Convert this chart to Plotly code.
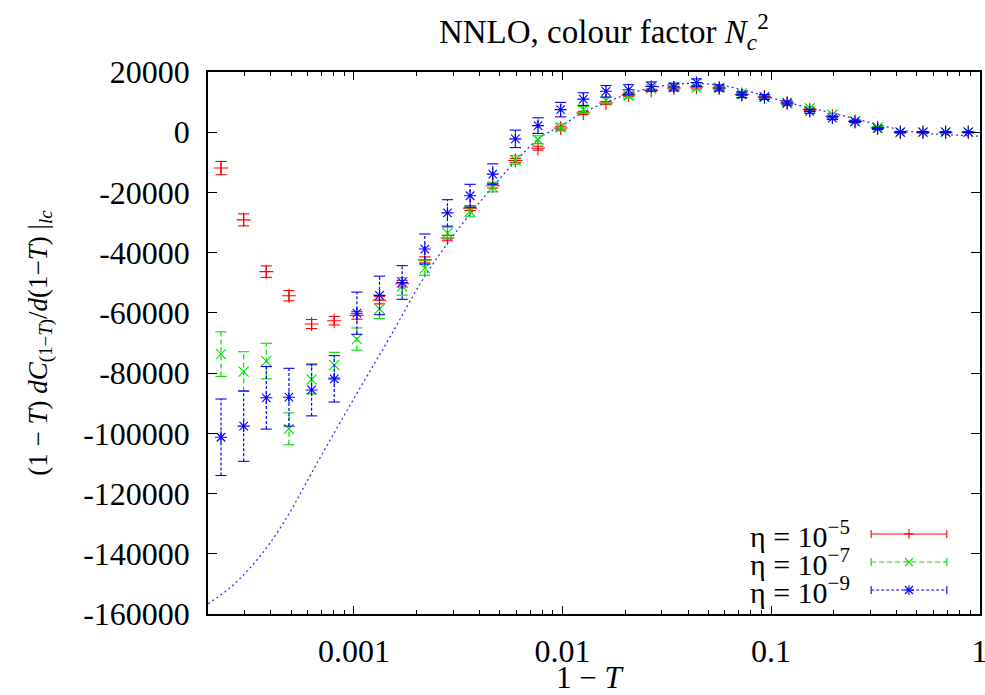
import plotly.graph_objects as go

# ---------------- data ----------------
x_vals = [2.3056e-4, 2.9604e-4, 3.8013e-4, 4.8810e-4, 6.2671e-4, 8.0474e-4,
          1.0333e-3, 1.3268e-3, 1.7036e-3, 2.1875e-3, 2.8088e-3, 3.6066e-3,
          4.6310e-3, 5.9463e-3, 7.6352e-3, 9.8037e-3, 1.2588e-2, 1.6164e-2,
          2.0755e-2, 2.6649e-2, 3.4218e-2, 4.3937e-2, 5.6416e-2, 7.2440e-2,
          9.3014e-2, 0.11943, 0.15335, 0.19691, 0.25284, 0.32465, 0.41686,
          0.53526, 0.68729, 0.88250]

red_y = [-11900, -29100, -46300, -54300, -63700, -62600, -60800, -55800,
         -50300, -42400, -35150, -25200, -17800, -9400, -5300, 1400, 6400,
         9700, 12400, 13900, 14700, 15000, 14700, 12500, 11700, 9700, 7500,
         5300, 3600, 1500, 0, 0, 0, 0]
red_err = [2200, 2000, 1900, 1700, 1500, 1400, 1300, 1200, 1100, 1000, 900,
           800, 750, 700, 650, 600, 550, 500, 450, 400, 400, 350, 350, 300,
           300, 250, 250, 200, 200, 150, 150, 100, 100, 100]

green_y = [-73700, -79500, -76000, -98500, -82100, -77300, -68700, -58700,
           -51200, -45100, -33500, -26300, -18200, -9200, -2500, 1600, 7500,
           10500, 12200, 14500, 15000, 14700, 14700, 12900, 11700, 9700, 8000,
           5800, 3600, 1600, 0, 0, 0, 0]
green_err = [7400, 6600, 5900, 5300, 4800, 4200, 3700, 3200, 2900, 2400,
             2000, 1800, 1600, 1400, 1300, 1200, 1100, 1000, 900, 800, 700,
             650, 600, 550, 500, 450, 400, 350, 300, 250, 200, 150, 150, 150]

blue_y = [-101300, -97600, -88200, -88000, -85600, -81900, -60100, -54200,
          -49900, -38800, -26800, -21100, -13900, -2200, 2200, 7500, 11000,
          13600, 14100, 15200, 15000, 16500, 14700, 12400, 11700, 9700, 6900,
          4700, 3600, 1200, 0, 0, 0, 0]
blue_err = [12700, 11700, 10400, 9600, 8600, 7700, 7000, 6400, 5600, 5000,
            4400, 3800, 3400, 2900, 2600, 2400, 2100, 1900, 1700, 1500, 1300,
            1200, 1000, 900, 800, 700, 600, 500, 400, 300, 250, 200, 200, 200]

theory_x = [2.0e-4, 2.547e-4, 3.177e-4, 3.963e-4, 4.943e-4, 5.832e-4,
            7.69e-4, 1.071e-3, 1.493e-3, 2.147e-3, 2.826e-3, 3.68e-3, 4.64e-3,
            6.05e-3, 7.80e-3, 9.89e-3, 1.247e-2, 1.626e-2, 2.051e-2, 2.61e-2,
            3.44e-2, 4.38e-2, 5.65e-2, 7.31e-2, 9.53e-2, 0.1202, 0.1549,
            0.1972, 0.2541, 0.3273, 0.4169, 0.537, 0.6934, 1.0]
theory_y = [-156600, -151300, -144700, -136400, -126100, -117100, -102200,
            -84900, -67900, -48700, -36700, -26400, -18100, -9100, -1800,
            2200, 6400, 10000, 12600, 14600, 15900, 16200, 15700, 14100,
            11900, 9900, 8000, 6400, 4400, 2500, 800, -300, -800, -1300]

y_tickvals = [20000, 0, -20000, -40000, -60000, -80000, -100000, -120000,
              -140000, -160000]
y_ticktext = ["20000", "0", "-20000", "-40000", "-60000", "-80000",
              "-100000", "-120000", "-140000", "-160000"]
x_tickvals = [0.001, 0.01, 0.1, 1]
x_ticktext = ["0.001", "0.01", "0.1", "1"]

series_names = ["η = 10<sup>−5</sup>", "η = 10<sup>−7</sup>", "η = 10<sup>−9</sup>"]

# ---------------- styling ----------------
FONT = "Liberation Serif"
RED, GREEN, BLUE = "#ff0000", "#00dd00", "#0000ff"
colors = [RED, GREEN, BLUE]
dashes = ["solid", "5px,3px", "3px,2px"]
symbols = ["cross-thin-open", "x-thin-open", "asterisk-open"]

fig = go.Figure()

# theory curve
fig.add_trace(go.Scatter(x=theory_x, y=theory_y, mode="lines",
                         line=dict(color="#3030ff", width=1.3, dash="2px,3px", shape="spline"),
                         showlegend=False, hoverinfo="skip"))

for name, ys, es, col, dsh, sym in zip(series_names, [red_y, green_y, blue_y],
                                       [red_err, green_err, blue_err],
                                       colors, dashes, symbols):
    # vertical error bars with line style
    bx, by = [], []
    for xv, yv, ev in zip(x_vals, ys, es):
        bx += [xv, xv, None]
        by += [yv - ev, yv + ev, None]
    fig.add_trace(go.Scatter(x=bx, y=by, mode="lines",
                             line=dict(color=col, width=1.2, dash=dsh),
                             showlegend=False, hoverinfo="skip"))
    # caps
    cx, cy = [], []
    for xv, yv, ev in zip(x_vals, ys, es):
        cx += [xv, xv]
        cy += [yv - ev, yv + ev]
    fig.add_trace(go.Scatter(x=cx, y=cy, mode="markers",
                             marker=dict(symbol="line-ew-open", size=8, color=col,
                                         line=dict(color=col, width=1.1)),
                             showlegend=False, hoverinfo="skip"))
    # points
    fig.add_trace(go.Scatter(x=x_vals, y=ys, mode="markers", name=name,
                             marker=dict(symbol=sym, size=10, color=col,
                                         line=dict(color=col, width=1.1)),
                             showlegend=False))

# ---------------- manual gnuplot-style key ----------------
key_x_text = 0.834
key_x0, key_x1, key_xm = 0.859, 0.957, 0.908
key_ys = [0.1476, 0.0959, 0.0443]
shapes = []
annotations = []


def pline(x, y, dx0, dy0, dx1, dy1, col, dash="solid"):
    return dict(type="line", xref="paper", yref="paper",
                xsizemode="pixel", ysizemode="pixel", xanchor=x, yanchor=y,
                x0=dx0, x1=dx1, y0=dy0, y1=dy1,
                line=dict(color=col, width=1.1, dash=dash))


for i, (name, col, dsh) in enumerate(zip(series_names, colors, dashes)):
    yc = key_ys[i]
    shapes.append(dict(type="line", xref="paper", yref="paper",
                       x0=key_x0, x1=key_x1, y0=yc, y1=yc,
                       line=dict(color=col, width=1.1, dash=dsh)))
    shapes.append(pline(key_x0, yc, 0, -4, 0, 4, col))
    shapes.append(pline(key_x1, yc, 0, -4, 0, 4, col))
    if i == 0 or i == 2:
        shapes.append(pline(key_xm, yc, -5, 0, 5, 0, col))
        shapes.append(pline(key_xm, yc, 0, -5, 0, 5, col))
    if i == 1 or i == 2:
        shapes.append(pline(key_xm, yc, -4, -4, 4, 4, col))
        shapes.append(pline(key_xm, yc, -4, 4, 4, -4, col))
    annotations.append(dict(text=name, xref="paper", yref="paper",
                            x=key_x_text, y=yc, xanchor="right", yanchor="middle",
                            showarrow=False, font=dict(family=FONT, size=30, color="black")))

# x-axis title, placed like gnuplot's xlabel
annotations.append(dict(text="1 − <i>T</i>", xref="paper", yref="paper",
                        x=0.495, y=-0.117, xanchor="center", yanchor="middle",
                        showarrow=False, font=dict(family=FONT, size=31, color="black")))

fig.update_layout(
    width=985, height=695,
    margin=dict(l=208, r=5, t=72, b=81, autoexpand=False),
    paper_bgcolor="white", plot_bgcolor="white",
    font=dict(family=FONT, size=32, color="black"),
    title=dict(text="NNLO, colour factor <i>N</i><sub><i>c</i></sub><sup>2</sup>",
               x=0.613, xref="container", xanchor="center",
               y=0.955, yref="container", yanchor="middle",
               font=dict(family=FONT, size=33, color="black")),
    shapes=shapes, annotations=annotations,
    showlegend=False,
)

fig.update_xaxes(type="log", range=[-3.6996, 0.002], automargin=False,
                 tickmode="array", tickvals=x_tickvals, ticktext=x_ticktext,
                 ticks="inside", ticklen=8, tickwidth=1, tickcolor="black",
                 ticklabeloverflow="allow",
                 minor=dict(ticks="inside", ticklen=4, tickwidth=1, tickcolor="black",
                            tickmode="array",
                            tickvals=[m * 10.0 ** e for e in range(-4, 0) for m in range(2, 10)],
                            showgrid=False),
                 showline=True, linecolor="black", linewidth=1.5, mirror="allticks",
                 showgrid=False, zeroline=False,
                 ticklabelstandoff=8)

fig.update_yaxes(range=[-160000, 20000], automargin=False,
                 tickmode="array", tickvals=y_tickvals, ticktext=y_ticktext,
                 ticks="inside", ticklen=9, tickwidth=1, tickcolor="black",
                 showline=True, linecolor="black", linewidth=1.5, mirror="allticks",
                 showgrid=False, zeroline=False,
                 ticklabelstandoff=10,
                 title=dict(text="(1 − <i>T</i>) <i>dC</i><sub>(1−<i>T</i>)</sub>/<i>d</i>(1−<i>T</i>) |<sub><i>lc</i></sub>",
                            font=dict(family=FONT, size=27), standoff=28))

fig.write_html("out.html")
